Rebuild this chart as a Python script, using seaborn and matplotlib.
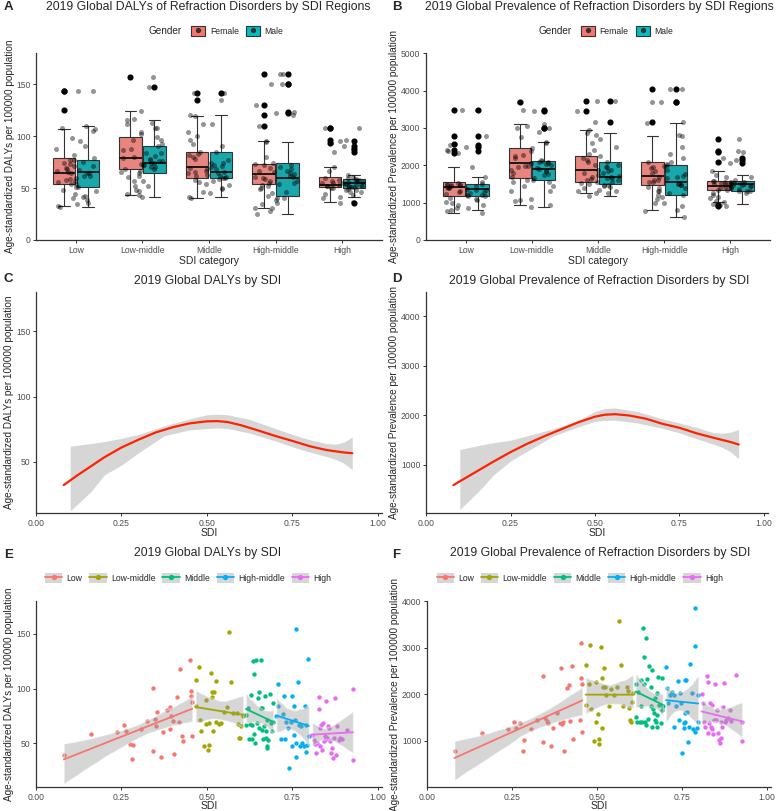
import numpy as np
import pandas as pd
import seaborn as sns
import matplotlib.pyplot as plt
from matplotlib.patches import Patch
from matplotlib.lines import Line2D
from matplotlib.legend_handler import HandlerTuple

sns.set_style('ticks')
plt.rcParams['font.family'] = ['Liberation Sans', 'DejaVu Sans']

categories = ['Low', 'Low-middle', 'Middle', 'High-middle', 'High']
genders = ['Female', 'Male']
gender_colors = ['#F8766D', '#00BFC4']
group_colors = ['#F8766D', '#A3A500', '#00BF7D', '#00B0F6', '#E76BF3']
sdi_ticks = [0.0, 0.25, 0.5, 0.75, 1.0]

# ---- A: age-standardized DALYs by gender and SDI category
daly_f_low = [33, 36, 40, 42, 47, 51, 53.6, 56, 58, 60, 62, 64, 64.9, 66, 68, 71, 74, 77, 79.3, 88, 95, 107, 125, 143, 143]
daly_m_low = [32, 35, 38, 41, 44, 48, 51.4, 54, 57, 59, 62, 64, 65.5, 67, 69, 71, 73, 75, 76.5, 82, 90, 98, 105, 108, 110]
daly_f_lowmid = [43.4, 47, 52, 57, 62, 65, 68, 70, 72, 74, 76, 77, 78.7, 80, 84, 88, 92, 96, 99, 104, 108, 112, 116, 123.7, 157]
daly_m_lowmid = [41.8, 44, 48, 52, 57, 61, 64.6, 66, 68, 70, 72, 73, 74, 76, 78, 81, 84, 87, 90, 96, 102, 108, 113, 115.6, 147]
daly_f_mid = [40, 46, 50, 54, 57, 59, 60, 62, 64, 66, 68, 69, 70.7, 72, 74, 77, 80, 83, 85, 92, 100, 112, 119.5, 135, 141]
daly_m_mid = [41.8, 45, 49, 53, 56, 58, 60, 61, 62, 63, 64, 65, 65.9, 68, 71, 74, 78, 82, 85, 90, 96, 104, 112, 120, 141]
daly_f_highmid = [30.5, 36, 40, 45, 49, 52, 53.6, 55, 57, 59, 61, 62, 63.3, 65, 66, 68, 70, 72, 73, 80, 94.8, 110, 120, 130, 160]
daly_m_highmid = [24.7, 28, 31, 35, 38, 40, 42.4, 46, 50, 53, 55, 57, 59.4, 61, 64, 66, 69, 72, 74, 94, 122, 123, 150, 150, 160]
daly_f_high = [37, 40, 43, 46, 48, 50, 50.8, 51, 51.5, 52, 52.3, 52.6, 53, 54, 55, 56, 58, 59.5, 60.7, 66, 70.7, 93, 96, 108, 108]
daly_m_high = [36, 41, 44, 46, 48, 49, 50, 51, 52, 53, 54, 55, 55.3, 56, 56.5, 57, 57.5, 58, 58.8, 60, 62.6, 85, 88, 90, 95]

# ---- B: age-standardized prevalence by gender and SDI category
prev_f_low = [717, 780, 850, 950, 1020, 1100, 1165, 1200, 1250, 1290, 1330, 1380, 1416, 1440, 1460, 1480, 1500, 1520, 1541, 1950, 2330, 2400, 2580, 2780, 3480]
prev_m_low = [790, 850, 950, 1000, 1080, 1130, 1165, 1200, 1240, 1280, 1310, 1340, 1362, 1390, 1410, 1440, 1460, 1480, 1505, 1700, 2380, 2500, 2550, 2780, 3480]
prev_f_lowmid = [940, 1100, 1300, 1450, 1550, 1620, 1658, 1760, 1850, 1920, 1990, 2030, 2061, 2100, 2150, 2200, 2280, 2380, 2464, 2600, 2750, 2900, 3050, 3100, 3700]
prev_m_lowmid = [880, 1050, 1070, 1300, 1450, 1550, 1613, 1680, 1740, 1800, 1850, 1880, 1900, 1950, 1990, 2020, 2060, 2090, 2115, 2250, 2620, 3000, 3000, 3460, 3470]
prev_f_mid = [1254, 1300, 1350, 1420, 1480, 1520, 1541, 1600, 1680, 1750, 1800, 1850, 1882, 1950, 2020, 2080, 2150, 2200, 2240, 2400, 2600, 2800, 2957, 3460, 3720]
prev_m_mid = [1165, 1270, 1300, 1380, 1440, 1480, 1505, 1560, 1600, 1630, 1650, 1670, 1684, 1720, 1800, 1880, 1950, 2020, 2088, 2300, 2500, 2700, 2867, 3150, 3720]
prev_f_highmid = [806, 1000, 1200, 1300, 1380, 1430, 1460, 1500, 1550, 1600, 1650, 1680, 1702, 1780, 1850, 1920, 1980, 2040, 2079, 2100, 2300, 2480, 2778, 3150, 4050]
prev_m_highmid = [627, 780, 900, 1000, 1100, 1150, 1192, 1250, 1320, 1400, 1460, 1510, 1550, 1620, 1700, 1800, 1880, 1950, 1998, 2200, 2800, 3136, 3700, 3700, 4050]
prev_f_high = [920, 950, 1020, 1150, 1250, 1300, 1344, 1370, 1390, 1410, 1425, 1440, 1452, 1470, 1490, 1510, 1530, 1550, 1568, 1700, 1837, 2100, 2350, 2380, 2710]
prev_m_high = [968, 1050, 1120, 1200, 1260, 1300, 1317, 1350, 1400, 1440, 1470, 1490, 1505, 1515, 1525, 1535, 1545, 1555, 1568, 1620, 1700, 1747, 2050, 2150, 2200]

# ---- C/D: smoothed curve over SDI with its band
curve_sdi = [0.081, 0.12, 0.16, 0.20, 0.25, 0.30, 0.35, 0.40, 0.45, 0.50, 0.53, 0.56, 0.60, 0.65, 0.70, 0.75, 0.80, 0.85, 0.90, 0.925]
curve_daly = [32.2, 39.5, 46.5, 53.5, 61, 67, 72.5, 76.5, 79.5, 81, 81.2, 80.5, 78, 74, 69.8, 66, 62, 59, 57.2, 56.6]
curve_prev = [593, 750, 910, 1070, 1260, 1430, 1580, 1720, 1860, 1975, 2015, 2025, 2000, 1935, 1830, 1750, 1640, 1550, 1465, 1413]
band_sdi = [0.10, 0.16, 0.20, 0.25, 0.30, 0.375, 0.45, 0.50, 0.53, 0.56, 0.625, 0.70, 0.75, 0.80, 0.85, 0.875, 0.90, 0.925]
band_daly_hi = [62, 64, 65.5, 68, 71, 77.5, 83, 86, 86.5, 86, 82.5, 75.5, 71, 67, 64, 63.5, 65, 69]
band_daly_lo = [12.5, 27, 40, 47.5, 57, 70, 74.5, 75.5, 76, 75.5, 72, 66, 61.5, 57.5, 54, 52, 49, 44]
band_prev_hi = [1313, 1400, 1450, 1500, 1590, 1727, 1900, 2080, 2140, 2150, 2080, 1930, 1847, 1760, 1650, 1640, 1660, 1713]
band_prev_lo = [100, 500, 800, 1080, 1280, 1580, 1770, 1880, 1900, 1905, 1847, 1740, 1647, 1530, 1420, 1360, 1270, 1127]

# ---- E/F: country values by SDI group
sdi_low = [0.081, 0.161, 0.238, 0.257, 0.263, 0.274, 0.284, 0.282, 0.306, 0.324, 0.342, 0.342, 0.347, 0.352, 0.355, 0.365, 0.370,
           0.383, 0.392, 0.393, 0.396, 0.401, 0.403, 0.411, 0.418, 0.422, 0.428, 0.430, 0.449, 0.453, 0.454, 0.457, 0.455]
dalys_low = [38.8, 58.8, 60.6, 66.7, 61.5, 49, 48.8, 36, 63, 70.7, 100.8, 43.3, 72.5, 66, 78.3, 37.5, 60,
             80.7, 82.8, 63, 74.6, 70, 40.3, 92, 69, 118, 56.4, 51.8, 126.3, 98, 93, 56.7, 87.7]
prevs_low = [786, 1164, 1257, 1414, 1271, 1393, 1014, 786, 1250, 1450, 2400, 979, 1486, 1429, 1380, 879, 1286,
             1607, 1393, 2571, 1364, 1414, 786, 2143, 2193, 1429, 2614, 1043, 1450, 3100, 2350, 2214, 1186]

sdi_lowmid = [0.468, 0.478, 0.467, 0.483, 0.481, 0.490, 0.496, 0.496, 0.504, 0.505, 0.507, 0.512, 0.515, 0.515, 0.517, 0.520,
              0.525, 0.527, 0.536, 0.541, 0.549, 0.559, 0.565, 0.570, 0.577, 0.587, 0.590, 0.593, 0.596, 0.601, 0.604, 0.606]
dalys_lowmid = [84.3, 120, 107.4, 61, 71.6, 47.3, 89.2, 68, 43.6, 68.8, 48.8, 114, 92, 96.8, 61, 96.8,
                106.5, 69, 68, 68.8, 78.3, 82.8, 151.5, 105.6, 77.7, 77.7, 68, 55, 55, 65.5, 75.5, 74.6]
prevs_lowmid = [2621, 2221, 1771, 1679, 3050, 993, 1414, 2257, 1571, 1043, 943, 3021, 2350, 1286, 2164, 2557,
                2157, 1979, 1757, 2107, 1986, 2150, 3579, 2621, 1757, 2157, 2079, 1700, 1450, 1414, 1843, 2036]

sdi_mid = [0.614, 0.614, 0.619, 0.622, 0.626, 0.630, 0.631, 0.633, 0.635, 0.638, 0.638, 0.640, 0.643, 0.645, 0.648, 0.651, 0.653, 0.658,
           0.658, 0.661, 0.662, 0.665, 0.667, 0.670, 0.672, 0.674, 0.676, 0.677, 0.680, 0.684, 0.687, 0.690, 0.692, 0.694, 0.677]
dalys_mid = [75.5, 67, 82.2, 54, 67.6, 94.4, 53.6, 67, 124.8, 113.2, 58, 50.3, 126.3, 68.5, 91.3, 96.5, 64, 126.3,
             82.2, 61.9, 82.2, 54, 65.5, 93.5, 61, 54.9, 45.7, 71.6, 53.3, 95.3, 68.5, 61, 86.8, 69, 47.9]
prevs_mid = [1521, 2214, 1414, 2050, 1414, 2307, 1750, 1414, 3429, 2807, 2214, 1407, 3200, 1343, 2336, 1471, 2614, 1757,
             2164, 1307, 2521, 1686, 1593, 1450, 1914, 1414, 1307, 2036, 2379, 1771, 1393, 2343, 1664, 1757, 1557]

sdi_highmid = [0.703, 0.707, 0.708, 0.716, 0.721, 0.726, 0.727, 0.732, 0.737, 0.740, 0.745, 0.748, 0.750, 0.755, 0.755, 0.758,
               0.759, 0.759, 0.761, 0.765, 0.769, 0.772, 0.774, 0.779, 0.784, 0.787, 0.789, 0.793, 0.796, 0.798, 0.789]
dalys_highmid = [74.6, 104.4, 84.3, 54.3, 77, 93.5, 54, 69, 64, 27.5, 69, 92.9, 47.3, 83.7, 57.3, 71.6,
                 37.5, 50.3, 154.3, 106, 67, 47.3, 66, 50, 47.3, 83.7, 41.8, 48.8, 126.9, 56.4, 67]
prevs_highmid = [2593, 2143, 1807, 1986, 2057, 1986, 1307, 1757, 2279, 1450, 2036, 1807, 729, 1271, 1386, 1414,
                 1607, 2307, 2307, 1629, 986, 1307, 2643, 2036, 1257, 3857, 1200, 1271, 1414, 1986, 3036]

sdi_high = [0.808, 0.813, 0.816, 0.818, 0.823, 0.827, 0.827, 0.830, 0.832, 0.835, 0.837, 0.839, 0.842, 0.845, 0.847, 0.849, 0.852,
            0.855, 0.858, 0.861, 0.864, 0.866, 0.868, 0.871, 0.874, 0.878, 0.881, 0.886, 0.890, 0.895, 0.910, 0.927, 0.927]
dalys_high = [57.9, 53.3, 49.7, 41.2, 50.3, 92.2, 81.3, 64, 47.3, 67, 44.2, 68.5, 51.8, 56.4, 88.9, 54, 54.9,
              65.5, 64, 51.8, 41.2, 45.7, 36.6, 54.9, 91.3, 39.7, 65.5, 53.3, 54.9, 54, 62.5, 99.5, 35.1]
prevs_high = [2000, 1807, 1414, 1307, 2400, 2271, 1164, 1379, 1807, 1307, 1250, 1771, 1143, 1450, 2221, 1450, 1664,
              1179, 1021, 950, 1057, 1414, 1307, 1721, 2250, 1414, 1450, 1486, 1664, 1429, 2414, 1000, 1414]

daly_label = 'Age-standardized DALYs per 100000 population'
prev_label = 'Age-standardized Prevalence per 100000 population'
title_daly_regions = '2019 Global DALYs of Refraction Disorders by SDI Regions'
title_prev_regions = '2019 Global Prevalence of Refraction Disorders by SDI Regions'
title_daly_sdi = '2019 Global DALYs by SDI'
title_prev_sdi = '2019 Global Prevalence of Refraction Disorders by SDI'

np.random.seed(7)


def style_axis(ax):
    sns.despine(ax=ax)
    for s in ['left', 'bottom']:
        ax.spines[s].set_color('#333333')
        ax.spines[s].set_linewidth(0.9)
    ax.tick_params(length=2.5, width=0.7, color='#333333', labelcolor='#4D4D4D', labelsize=6.2, pad=1.5)


def box_panel(ax, f_lists, m_lists, ylabel, title, ylim, yticks, title_x, leg_x, ylab_x):
    rows = []
    for cat, f, m in zip(categories, f_lists, m_lists):
        rows += [(cat, 'Female', v) for v in f]
        rows += [(cat, 'Male', v) for v in m]
    df = pd.DataFrame(rows, columns=['SDI category', 'Gender', 'value'])
    sns.boxplot(data=df, x='SDI category', y='value', hue='Gender', order=categories, hue_order=genders,
                palette=gender_colors, width=0.72, gap=0.05, linecolor='#333333', linewidth=0.8,
                fliersize=3.4, flierprops=dict(marker='o', markerfacecolor='black', markeredgecolor='black'),
                medianprops=dict(color='#1a1a1a', linewidth=1.4), legend=False, ax=ax)
    sns.stripplot(data=df, x='SDI category', y='value', order=categories, color='black', alpha=0.42,
                  jitter=0.32, size=3.6, linewidth=0, ax=ax)
    ax.set_xlim(-0.6, 4.6)
    ax.set_ylim(*ylim)
    ax.set_yticks(yticks)
    style_axis(ax)
    ax.set_ylabel(ylabel, fontsize=7.2)
    ax.yaxis.set_label_coords(ylab_x, 0.5)
    ax.set_xlabel('SDI category', fontsize=7.5)
    ax.xaxis.set_label_coords(0.5, -0.085)
    ax.text(title_x, 1.246, title, transform=ax.transAxes, ha='center', va='center', fontsize=8.8)
    handles = [(Patch(facecolor=c, edgecolor='#333333', linewidth=0.8),
                Line2D([], [], marker='o', color='#333333', linestyle='', markersize=2.8)) for c in gender_colors]
    ax.legend(handles=handles, labels=genders, ncol=2, loc='center left', bbox_to_anchor=(leg_x, 1.118),
              frameon=False, fontsize=6.2, handlelength=1.7, handleheight=1.5, columnspacing=0.8,
              handletextpad=0.5, handler_map={tuple: HandlerTuple(ndivide=1)})
    ax.text(leg_x - 0.005, 1.118, 'Gender', transform=ax.transAxes, ha='right', va='center', fontsize=7.2)


def curve_panel(ax, curve_y, band_hi, band_lo, ylabel, title, ylim, yticks, title_x, ylab_x):
    ax.fill_between(band_sdi, band_lo, band_hi, color='#d6d6d6', linewidth=0)
    sns.lineplot(x=curve_sdi, y=curve_y, color='#FF2200', linewidth=1.6, ax=ax)
    ax.set_xlim(0, 1.012)
    ax.set_ylim(*ylim)
    ax.set_yticks(yticks)
    ax.set_xticks(sdi_ticks)
    ax.set_xticklabels([f'{t:.2f}' for t in sdi_ticks])
    style_axis(ax)
    ax.set_ylabel(ylabel, fontsize=7.2)
    ax.yaxis.set_label_coords(ylab_x, 0.5)
    ax.set_xlabel('SDI', fontsize=7.5)
    ax.xaxis.set_label_coords(0.5, -0.066)
    ax.text(title_x, 1.052, title, transform=ax.transAxes, ha='center', va='center', fontsize=8.8)


def group_panel(ax, ys, ylabel, title, ylim, yticks, title_x, leg_x, ylab_x):
    xs = [sdi_low, sdi_lowmid, sdi_mid, sdi_highmid, sdi_high]
    for x, y, c in zip(xs, ys, group_colors):
        sns.scatterplot(x=x, y=y, color=c, s=10, linewidth=0, ax=ax)
    for x, y, c in zip(xs, ys, group_colors):
        sns.regplot(x=x, y=y, scatter=False, color=c, ci=95, seed=3, n_boot=500,
                    line_kws={'linewidth': 1.3, 'zorder': 3}, ax=ax)
        band = ax.collections[-1]
        band.set_facecolor('#999999')
        band.set_alpha(0.4)
    ax.set_xlim(0, 1.012)
    ax.set_ylim(*ylim)
    ax.set_yticks(yticks)
    ax.set_xticks(sdi_ticks)
    ax.set_xticklabels([f'{t:.2f}' for t in sdi_ticks])
    style_axis(ax)
    ax.set_ylabel(ylabel, fontsize=7.2)
    ax.yaxis.set_label_coords(ylab_x, 0.5)
    ax.set_xlabel('SDI', fontsize=7.5)
    ax.xaxis.set_label_coords(0.5, -0.078)
    ax.text(title_x, 1.256, title, transform=ax.transAxes, ha='center', va='center', fontsize=8.8)
    handles = [(Patch(facecolor='#d6d6d6', edgecolor='none'),
                Line2D([], [], color=c, marker='o', markersize=2.8, linewidth=1.3)) for c in group_colors]
    ax.legend(handles=handles, labels=categories, ncol=5, loc='center', bbox_to_anchor=(leg_x, 1.124),
              frameon=False, fontsize=6.2, handlelength=2.0, handleheight=1.5, columnspacing=0.8,
              handletextpad=0.5, handler_map={tuple: HandlerTuple(ndivide=1)})


fig = plt.figure(figsize=(7.78, 8.11), dpi=100)
axA = fig.add_axes([0.0463, 0.7041, 0.4447, 0.2306])
axB = fig.add_axes([0.5476, 0.7041, 0.4422, 0.2306])
axC = fig.add_axes([0.0463, 0.3674, 0.4447, 0.2725])
axD = fig.add_axes([0.5476, 0.3674, 0.4396, 0.2725])
axE = fig.add_axes([0.0463, 0.0296, 0.4447, 0.2293])
axF = fig.add_axes([0.5488, 0.0296, 0.4422, 0.2293])

box_panel(axA, [daly_f_low, daly_f_lowmid, daly_f_mid, daly_f_highmid, daly_f_high],
          [daly_m_low, daly_m_lowmid, daly_m_mid, daly_m_highmid, daly_m_high],
          daly_label, title_daly_regions, (0, 180), [0, 50, 100, 150], 0.497, 0.425, -0.061)
box_panel(axB, [prev_f_low, prev_f_lowmid, prev_f_mid, prev_f_highmid, prev_f_high],
          [prev_m_low, prev_m_lowmid, prev_m_mid, prev_m_highmid, prev_m_high],
          prev_label, title_prev_regions, (0, 5010), [0, 1000, 2000, 3000, 4000, 5000], 0.503, 0.427, -0.079)

curve_panel(axC, curve_daly, band_daly_hi, band_daly_lo, daly_label, title_daly_sdi,
            (10.8, 180), [50, 100, 150], 0.497, -0.065)
curve_panel(axD, curve_prev, band_prev_hi, band_prev_lo, prev_label, title_prev_sdi,
            (30, 4490), [1000, 2000, 3000, 4000], 0.506, -0.079)

group_panel(axE, [dalys_low, dalys_lowmid, dalys_mid, dalys_highmid, dalys_high], daly_label, title_daly_sdi,
            (10, 180), [50, 100, 150], 0.497, 0.44, -0.064)
group_panel(axF, [prevs_low, prevs_lowmid, prevs_mid, prevs_highmid, prevs_high], prev_label, title_prev_sdi,
            (10, 4000), [1000, 2000, 3000, 4000], 0.503, 0.444, -0.079)

for letter, x, y in [('A', 4, 7), ('B', 392, 7), ('C', 4, 279), ('D', 392, 279), ('E', 4, 555), ('F', 392, 555)]:
    fig.text(x / 778, 1 - y / 811, letter, fontsize=9.5, fontweight='bold', ha='left', va='center')

fig.savefig('out.png', dpi=100)
